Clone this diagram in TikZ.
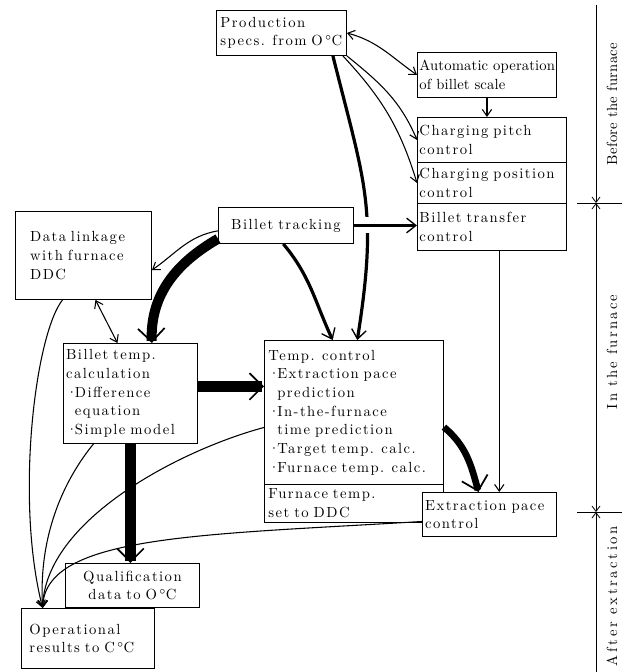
\documentclass[tikz,border=0pt]{standalone}
\usepackage{fontspec}
\setmainfont{lmroman10-regular.otf}
\usetikzlibrary{arrows.meta}
\newcommand\fsz{\fontsize{11}{14}\selectfont}
\newcommand\bul{\makebox[0.6em][l]{\textperiodcentered}}
\newcommand\ind{\hspace*{0.6em}}
\tikzset{
  box/.style={draw, fill=white, anchor=north west, inner xsep=3pt, inner ysep=1pt,
              align=left, font=\fsz\addfontfeatures{LetterSpace=10}, line width=0.7pt},
  conn/.style={line width=0.8pt, -{Straight Barb[length=5pt,width=7pt]}},
  dconn/.style={line width=0.8pt, {Straight Barb[length=5pt,width=7pt]}-{Straight Barb[length=5pt,width=7pt]}},
  medarr/.style={line width=2.4pt, -{Straight Barb[length=7pt,width=11pt,line width=1pt 0 1]}},
  fatarr/.style={-{Straight Barb[length=10pt,width=20pt,line width=1.3pt 0 1]}},
  axis/.style={line width=0.6pt},
  axtip/.tip={Straight Barb[length=4pt,width=6pt]},
  lbl/.style={rotate=90},
}
\begin{document}
\begin{tikzpicture}[x=0.75pt, y=0.75pt]
\fill[white] (0,0) rectangle (636,-672);
\useasboundingbox (0,0) rectangle (636,-672);

% boxes
\node[box, minimum width=97.5pt, minimum height=33.75pt, text width=91.5pt] (prod) at (216,-10)
  {Production\\specs. from O\,$^{\circ}$C};
\node[box, font=\fsz\addfontfeatures{LetterSpace=1}, inner xsep=1.5pt, minimum width=104.25pt, minimum height=33.75pt, text width=101.25pt] (auto) at (417,-52)
  {\mbox{Automatic operation}\\of billet scale};
\node[box, inner xsep=1.5pt, minimum width=111.75pt, minimum height=33.75pt, text width=108.75pt] (pitch) at (417,-117)
  {Charging pitch\\control};
\node[box, inner xsep=1.5pt, minimum width=111.75pt, minimum height=30.75pt, text width=108.75pt] (posn) at (417,-162)
  {\mbox{Charging position}\\control};
\node[box, inner xsep=1.5pt, minimum width=111.75pt, minimum height=35.25pt, text width=108.75pt] (trans) at (417,-203)
  {Billet transfer\\control};
\node[box, inner xsep=11pt, minimum width=102pt, minimum height=66pt, text width=80pt] (data) at (15,-211)
  {Data linkage\\with furnace\\DDC};
\node[box, align=center, minimum width=101.25pt, minimum height=27pt, text width=95.25pt] (track) at (218,-207)
  {Billet tracking};
\node[box, inner xsep=2pt, minimum width=100.5pt, minimum height=75pt, text width=96.5pt] (btemp) at (63,-343)
  {Billet temp.\\calculation\\\bul Difference\\\ind equation\\\bul Simple model};
\node[box, minimum width=134.25pt, minimum height=108pt, text width=128.25pt] (tctl) at (264,-340)
  {Temp. control\\\bul Extraction pace\\\ind prediction\\\bul In-the-furnace\\\ind time prediction\\\bul Target temp. calc.\\\bul Furnace temp. calc.};
\node[box, minimum width=134.25pt, minimum height=28.5pt, text width=128.25pt] (fset) at (264,-484)
  {Furnace temp.\\set to DDC};
\node[box, inner xsep=2pt, minimum width=100.5pt, minimum height=33pt, text width=96.5pt] (extr) at (422,-492)
  {\mbox{Extraction pace}\\control};
\node[box, align=center, minimum width=100.5pt, minimum height=33pt, text width=94.5pt] (qual) at (65,-563)
  {Qualification\\data to O\,$^{\circ}$C};
\node[box, inner xsep=6pt, minimum width=99.75pt, minimum height=45pt, text width=87.75pt] (oper) at (21,-608)
  {Operational\\results to C\,$^{\circ}$C};

% connectors
\draw[dconn] (prod.east) to[out=-15,in=145] (auto.west);
\draw[conn] (auto.south) -- (auto.south |- pitch.north);
\draw[conn] (prod.south east) to[out=-39,in=113] (pitch.west);
\draw[conn] ([xshift=-3pt]prod.south east) to[out=-47,in=107] (posn.west);
\draw[medarr] ([xshift=-10.5pt]prod.south east) to[out=-76,in=81,looseness=1.2] ([xshift=2.5pt]tctl.north);
\draw[medarr, preaction={draw=white, line width=12pt, -, shorten <=5pt, shorten >=26pt}]
  (track.east) -- (track.east -| trans.west);
\draw[conn] ([yshift=-4pt]track.west) to[out=190,in=35] ([yshift=-11pt]data.east);
\draw[line width=7.5pt, fatarr] ([yshift=-10pt]track.west) to[out=210,in=92] ([xshift=16pt]btemp.north);
\draw[medarr] ([xshift=-2pt]track.south) to[out=-50,in=115] ([xshift=-16pt]tctl.north);
\draw[dconn] ([xshift=9pt]data.south) -- ([xshift=-9.75pt]btemp.north);
\draw[line width=8pt, fatarr] ([yshift=5.25pt]btemp.east) -- ([yshift=5.25pt]btemp.east -| tctl.west);
\draw[line width=5pt, fatarr] ([yshift=-11pt]tctl.east) to[out=-40,in=105] ([xshift=-8.25pt]extr.north);
\draw[conn] ([xshift=5.5pt]trans.south) -- ([xshift=5.5pt]trans.south |- extr.north);

\draw[conn] ([xshift=-15.75pt]data.south) .. controls (35,-335) and (15,-500) .. ([xshift=-34pt]oper.north);
\draw[conn] ([xshift=-27.75pt]btemp.south) .. controls (68,-475) and (38,-530) .. ([xshift=-34pt]oper.north);
\draw[conn] ([yshift=-11.25pt]tctl.west) .. controls (180,-450) and (45,-520) .. ([xshift=-34pt]oper.north);
\draw[conn] ([yshift=-5.25pt]extr.west) .. controls (200,-535) and (45,-535) .. ([xshift=-34pt]oper.north);

\draw[line width=8pt, fatarr] (btemp.south) -- (btemp.south |- qual.north);

% stage axis
\coordinate (ax0) at (596,-5);
\coordinate (ax1) at (596,-203);
\coordinate (ax2) at (596,-512);
\coordinate (ax3) at (596,-672);
\coordinate (t1l) at (577,-203);
\coordinate (t1r) at (622,-203);
\coordinate (t2l) at (577,-512);
\coordinate (t2r) at (622,-512);
\draw[axis, -axtip] (ax0) -- (ax1);
\draw[axis, axtip-axtip] (ax1) -- (ax2);
\draw[axis, axtip-] (ax2) -- (ax3);
\draw[axis] (t1l) -- (t1r);
\draw[axis] (t2l) -- (t2r);
\node[lbl, font=\fsz\addfontfeatures{LetterSpace=2}] (lb1) at (612,-104) {Before the furnace};
\node[lbl, font=\fsz\addfontfeatures{LetterSpace=15}] (lb2) at (612,-352) {In the furnace};
\node[lbl, font=\fsz\addfontfeatures{LetterSpace=18}] (lb3) at (612,-596) {After extraction};
\end{tikzpicture}
\end{document}
